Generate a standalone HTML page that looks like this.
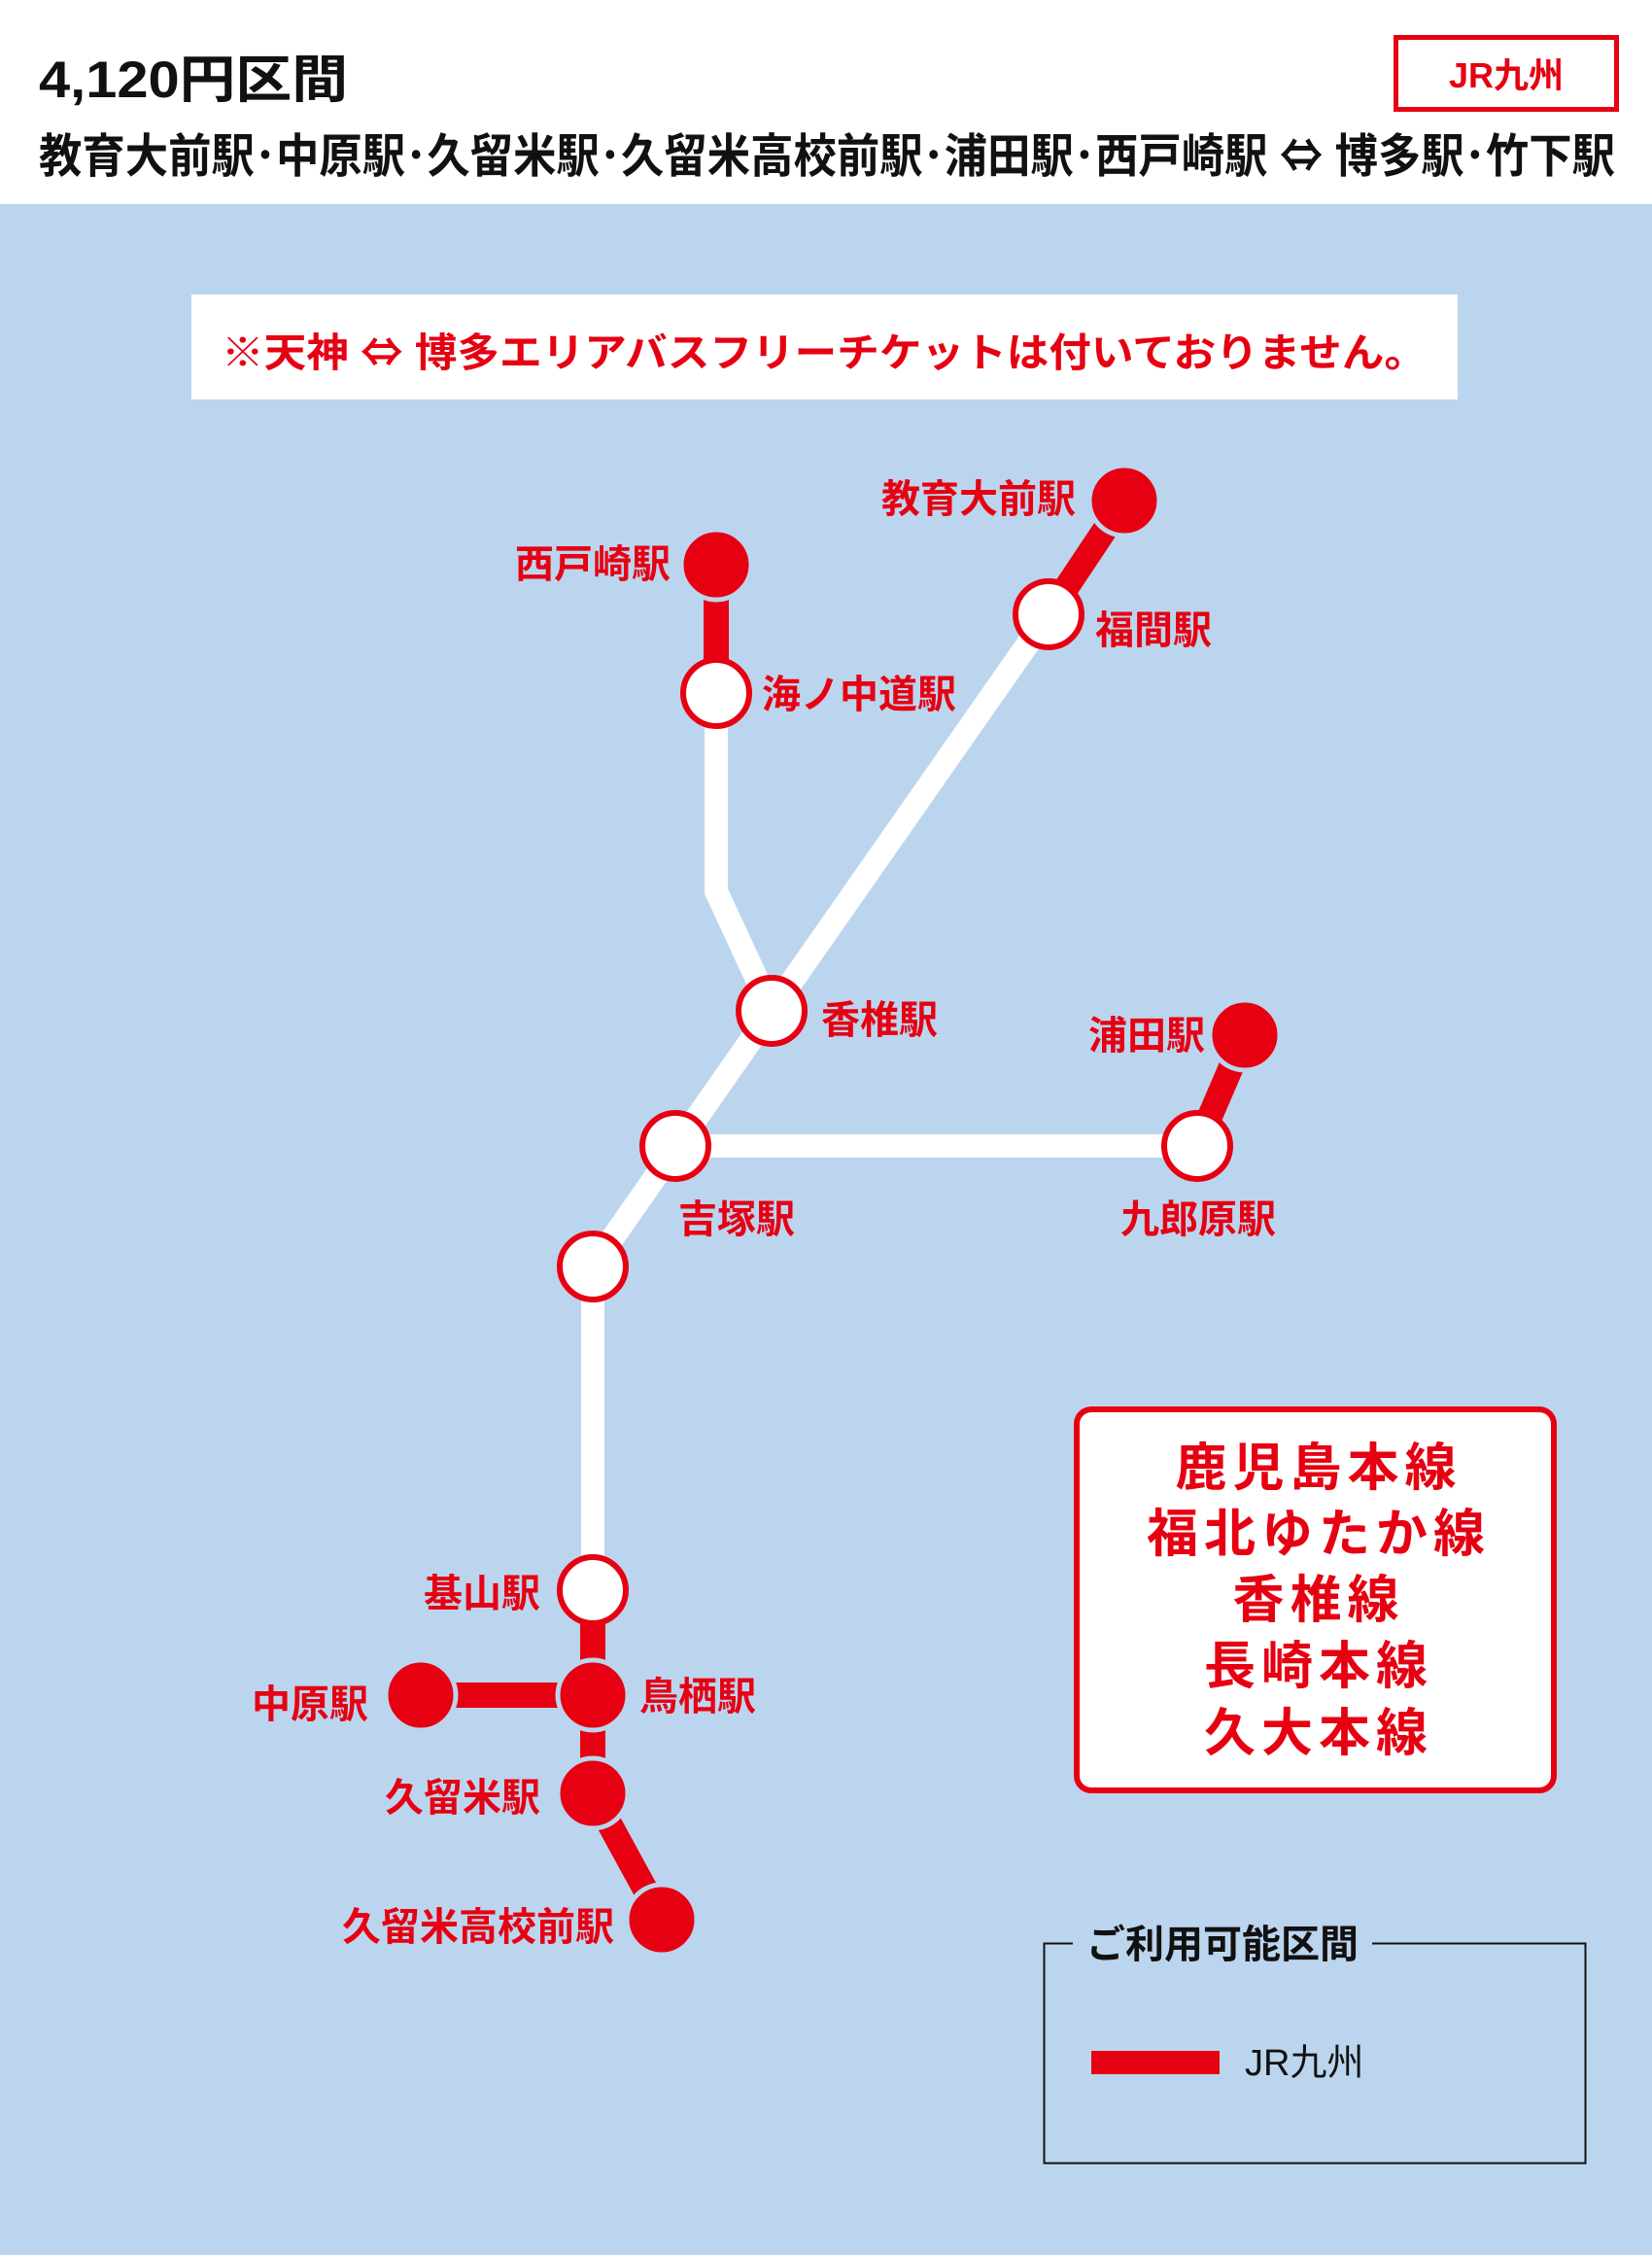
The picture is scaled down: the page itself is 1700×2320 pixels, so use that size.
<!DOCTYPE html>
<html><head><meta charset="utf-8"><style>
html,body{margin:0;padding:0;}
svg{display:block;}
text{font-family:"Liberation Sans","Noto Sans CJK JP",sans-serif;}
.cj{font-family:"Noto Sans CJK JP",sans-serif;}
</style></head><body>
<svg width="1700" height="2320" viewBox="0 0 1700 2320" xmlns="http://www.w3.org/2000/svg">
<rect x="0" y="0" width="1700" height="2320" fill="#bcd5ee"/>
<rect x="0" y="0" width="1700" height="210" fill="#fff"/>
<text x="40" y="100" font-size="53" font-weight="bold" fill="#111" textLength="318" lengthAdjust="spacingAndGlyphs">4,120円区間</text>
<text x="40" y="177" font-size="48" font-weight="bold" fill="#111" textLength="1622" lengthAdjust="spacingAndGlyphs">教育大前駅･中原駅･久留米駅･久留米高校前駅･浦田駅･西戸崎駅 <tspan class="cj">⇔</tspan> 博多駅･竹下駅</text>
<rect x="1436.5" y="38.5" width="227" height="74" fill="#fff" stroke="#e60012" stroke-width="5"/>
<text x="1550" y="90" font-size="36" font-weight="bold" fill="#e60012" text-anchor="middle">JR九州</text>
<rect x="197" y="303" width="1303" height="108" fill="#fff"/>
<text x="848" y="377" font-size="41" font-weight="bold" fill="#e60012" text-anchor="middle" textLength="1240" lengthAdjust="spacingAndGlyphs">※天神 <tspan class="cj">⇔</tspan> 博多エリアバスフリーチケットは付いておりません。</text>

<g stroke-linecap="butt" fill="none">
<polyline points="737,713 737,917 794,1040" stroke="#fff" stroke-width="24" stroke-linejoin="miter"/>
<line x1="1079" y1="632" x2="610" y2="1303" stroke="#fff" stroke-width="24"/>
<line x1="695" y1="1179" x2="1232" y2="1179" stroke="#fff" stroke-width="24"/>
<line x1="610" y1="1303" x2="610" y2="1636" stroke="#fff" stroke-width="24"/>
<line x1="1157" y1="515" x2="1079" y2="632" stroke="#e60012" stroke-width="26"/>
<line x1="737" y1="581" x2="737" y2="713" stroke="#e60012" stroke-width="26"/>
<line x1="1281" y1="1065" x2="1232" y2="1179" stroke="#e60012" stroke-width="26"/>
<line x1="610" y1="1636" x2="610" y2="1845" stroke="#e60012" stroke-width="26"/>
<line x1="433" y1="1744" x2="610" y2="1744" stroke="#e60012" stroke-width="26"/>
<line x1="610" y1="1845" x2="681" y2="1975" stroke="#e60012" stroke-width="26"/>
</g>
<g fill="#e60012" stroke="#bcd5ee" stroke-width="5">
<circle cx="1157" cy="515" r="36"/>
<circle cx="737" cy="581" r="36"/>
<circle cx="1281" cy="1065" r="36"/>
<circle cx="610" cy="1744" r="36"/>
<circle cx="433" cy="1744" r="36"/>
<circle cx="610" cy="1845" r="36"/>
<circle cx="681" cy="1975" r="36"/>
</g>
<g fill="#fff" stroke="#e60012" stroke-width="6">
<circle cx="1079" cy="632" r="34"/>
<circle cx="737" cy="713" r="34"/>
<circle cx="794" cy="1040" r="34"/>
<circle cx="695" cy="1179" r="34"/>
<circle cx="1232" cy="1179" r="34"/>
<circle cx="610" cy="1303" r="34"/>
<circle cx="610" cy="1636" r="34"/>
</g>
<g font-size="40" font-weight="bold" fill="#e60012">
<text x="1107" y="527" text-anchor="end">教育大前駅</text>
<text x="1127" y="662">福間駅</text>
<text x="690" y="594" text-anchor="end">西戸崎駅</text>
<text x="784" y="728">海ノ中道駅</text>
<text x="845" y="1063">香椎駅</text>
<text x="1240" y="1079" text-anchor="end">浦田駅</text>
<text x="698" y="1268">吉塚駅</text>
<text x="1153" y="1268">九郎原駅</text>
<text x="556" y="1653" text-anchor="end">基山駅</text>
<text x="379" y="1767" text-anchor="end">中原駅</text>
<text x="658" y="1759">鳥栖駅</text>
<text x="556" y="1863" text-anchor="end">久留米駅</text>
<text x="632" y="1996" text-anchor="end">久留米高校前駅</text>
</g>
<rect x="1108" y="1450" width="491" height="392" rx="15" fill="#fff" stroke="#e60012" stroke-width="6"/>
<g font-size="53" font-weight="bold" fill="#e60012" text-anchor="middle" letter-spacing="6">
<text x="1357" y="1528">鹿児島本線</text>
<text x="1357" y="1596">福北ゆたか線</text>
<text x="1357" y="1664">香椎線</text>
<text x="1357" y="1732">長崎本線</text>
<text x="1357" y="1801">久大本線</text>
</g>
<rect x="1074.5" y="1999.5" width="557" height="226" fill="none" stroke="#111" stroke-width="2"/>
<rect x="1104" y="1980" width="308" height="40" fill="#bcd5ee"/>
<text x="1118" y="2014" font-size="40" font-weight="bold" fill="#111">ご利用可能区間</text>
<rect x="1123" y="2110" width="132" height="24" fill="#e60012"/>
<text x="1281" y="2135" font-size="38" fill="#111">JR九州</text>
</svg>
</body></html>
